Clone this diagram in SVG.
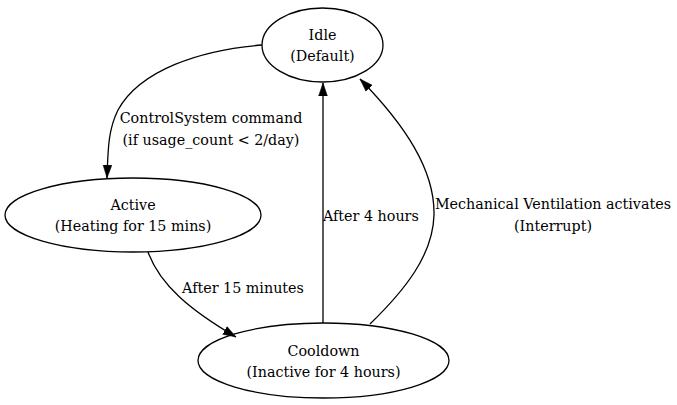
<svg xmlns="http://www.w3.org/2000/svg" width="677" height="405" viewBox="0 0 677 405">
<style>
.n{fill:none;stroke:#000;stroke-width:1.3}
.e{fill:none;stroke:#000;stroke-width:1.3}
text{font-family:'DejaVu Serif','Liberation Serif',serif;font-size:14.3px;fill:#000;text-anchor:middle}
text.l{text-anchor:start}
</style>
<defs>
<marker id="a" viewBox="0 0 13 10" refX="13" refY="5" markerWidth="13" markerHeight="10" markerUnits="userSpaceOnUse" orient="auto">
<path d="M0,0.6 L13,5 L0,9.4 z" fill="#000" stroke="#000" stroke-width="0.5"/>
</marker>
</defs>
<rect width="677" height="405" fill="#fff"/>
<g id="idle">
<ellipse class="n" cx="322.5" cy="45" rx="60.5" ry="37"/>
<text x="322.5" y="40">Idle</text>
<text x="322.5" y="61">(Default)</text>
</g>
<g id="active">
<ellipse class="n" cx="133" cy="215" rx="128" ry="37"/>
<text x="133" y="210">Active</text>
<text x="133" y="231">(Heating for 15 mins)</text>
</g>
<g id="cooldown">
<ellipse class="n" cx="323.5" cy="360.5" rx="125.5" ry="37.5"/>
<text x="323.5" y="356">Cooldown</text>
<text x="323.5" y="377">(Inactive for 4 hours)</text>
</g>
<g id="connectors">
<path class="e" marker-end="url(#a)" d="M262,45 C200,50 140,70 118,110 C108,130 108,150 107,178"/>
<text x="211" y="123">ControlSystem command</text>
<text x="211" y="145">(if usage_count &lt; 2/day)</text>
<path class="e" marker-end="url(#a)" d="M148,252 C160,285 190,310 236,337"/>
<text x="243" y="293">After 15 minutes</text>
<path class="e" marker-end="url(#a)" d="M323,323 L323,83"/>
<text class="l" x="323" y="221">After 4 hours</text>
<path class="e" marker-end="url(#a)" d="M370,324 C405,290 433,255 434,215 C435,170 405,125 360,79"/>
<text x="553" y="209">Mechanical Ventilation activates</text>
<text x="553" y="231">(Interrupt)</text>
</g>
</svg>
